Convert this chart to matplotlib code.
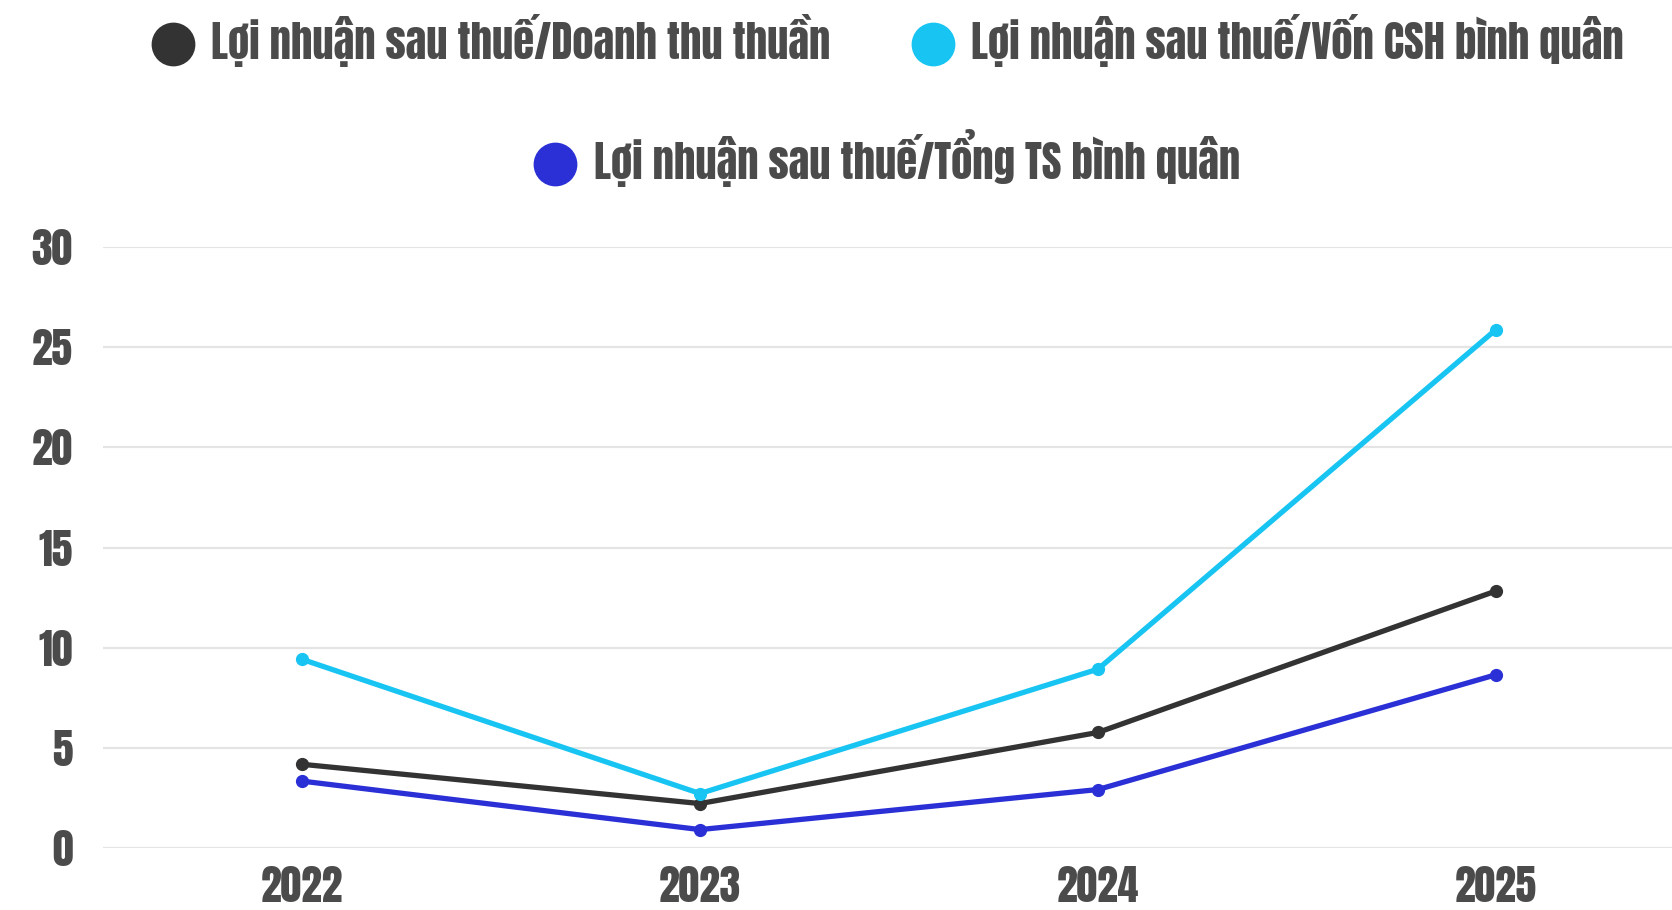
import matplotlib
matplotlib.use("Agg")
import matplotlib.pyplot as plt
from matplotlib.lines import Line2D
from matplotlib import font_manager as fm

years = ["2022", "2023", "2024", "2025"]
s_doanhthu = [4.18, 2.22, 5.77, 12.83]
s_voncsh = [9.42, 2.72, 8.93, 25.88]
s_tongts = [3.34, 0.92, 2.92, 8.65]
names = ["Lợi nhuận sau thuế/Doanh thu thuần",
         "Lợi nhuận sau thuế/Vốn CSH bình quân",
         "Lợi nhuận sau thuế/Tổng TS bình quân"]
colors = ["#333333", "#18c4f2", "#2a30d6"]
yticks = [0, 5, 10, 15, 20, 25, 30]

available = {f.name for f in fm.fontManager.ttflist}
main_font = 'DejaVu Sans'
for cand in ['Anton', 'Oswald', 'Roboto Condensed', 'Barlow Condensed', 'Open Sans Condensed']:
    if cand in available:
        main_font = cand
        break
plt.rcParams['font.family'] = [main_font, 'DejaVu Sans']
weight = 'normal' if main_font == 'Anton' else 'bold'
plt.rcParams['font.weight'] = weight
TXT = "#4b4b4b"

fig = plt.figure(figsize=(16.72, 9.10), dpi=100)
renderer = fig.canvas.get_renderer()

def fit_size(s, target_w, base=30):
    t = fig.text(0, 0, s, fontsize=base)
    w = t.get_window_extent(renderer).width
    t.remove()
    return base * target_w / w

leg_fs = fit_size(names[0], 619)
tick_fs = fit_size("2022", 82)

ax = fig.add_axes([0.0616, 0.0681, 0.9384, 0.6605])

x = list(range(len(years)))
for vals, c in zip([s_doanhthu, s_voncsh, s_tongts], colors):
    ax.plot(x, vals, color=c, lw=3.8, marker='o', markersize=8.5, clip_on=False, zorder=3)

ax.set_ylim(0, 30)
ax.set_xlim(-0.5, -0.5 + 1569 / 398)
ax.set_yticks(yticks)
ax.set_xticks(x)
ax.set_xticklabels(years)
for sp in ax.spines.values():
    sp.set_visible(False)
ax.grid(axis='y', color='#e4e4e4', lw=1.6, zorder=0)
ax.axhline(0, color='#a8a8a8', lw=1.8, zorder=1)
ax.tick_params(axis='both', length=0, labelsize=tick_fs, labelcolor=TXT)
ax.tick_params(axis='y', pad=22)
ax.tick_params(axis='x', pad=13)

handles = [Line2D([], [], marker='o', linestyle='none', markersize=30.5, color=c) for c in colors]
hl = 0.9
leg1 = fig.legend(handles[:2], names[:2], loc='center', bbox_to_anchor=(0.5315, 0.956),
                  ncol=2, frameon=False, fontsize=leg_fs, handlelength=hl,
                  handletextpad=0.45, columnspacing=1.95, borderpad=0)
leg2 = fig.legend(handles[2:], names[2:], loc='center', bbox_to_anchor=(0.531, 0.826),
                  ncol=1, frameon=False, fontsize=leg_fs, handlelength=hl,
                  handletextpad=0.45, borderpad=0)
for lg in (leg1, leg2):
    for t in lg.get_texts():
        t.set_color(TXT)

fig.savefig("out.png", dpi=100)
